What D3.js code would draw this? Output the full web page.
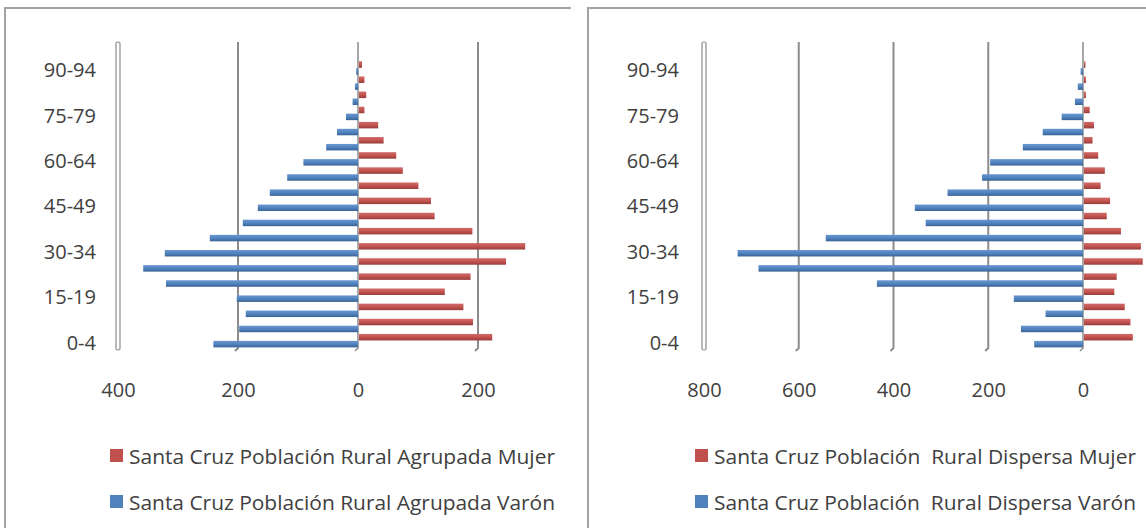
<!DOCTYPE html>
<html>
<head>
<meta charset="utf-8">
<script src="https://cdn.jsdelivr.net/npm/d3@7"></script>
<style>
  html, body { margin: 0; padding: 0; background: #fff; }
  svg text { font-family: "Open Sans", "Liberation Sans", sans-serif; fill: #404040; }
</style>
</head>
<body>
<div id="chart"></div>
<script>
// grupos de edad (de abajo hacia arriba)
const ageGroups = ["0-4", "5-9", "10-14", "15-19", "20-24", "25-29", "30-34", "35-39", "40-44",
  "45-49", "50-54", "55-59", "60-64", "65-69", "70-74", "75-79", "80-84", "85-89", "90-94"];
const shownAgeLabels = ["0-4", "15-19", "30-34", "45-49", "60-64", "75-79", "90-94"];

// Rural agrupada
const agrupadaMujer = [222, 190, 174, 143, 186, 245, 277, 189, 126, 120, 99, 73, 62, 41, 32, 9, 12, 9, 5];
const agrupadaVaron = [241, 198, 187, 202, 320, 358, 322, 247, 192, 167, 147, 118, 91, 53, 35, 20, 9, 5, 3];
const agrupadaTicks = [-400, -200, 0, 200];
const agrupadaLegend = ["Santa Cruz Población Rural Agrupada Mujer", "Santa Cruz Población Rural Agrupada Varón"];

// Rural dispersa
const dispersaMujer = [103, 98, 86, 64, 69, 124, 120, 78, 48, 55, 35, 44, 30, 18, 21, 12, 4, 4, 3];
const dispersaVaron = [103, 131, 79, 146, 435, 685, 729, 543, 332, 355, 286, 213, 196, 127, 85, 45, 17, 11, 5];
const dispersaTicks = [-800, -600, -400, -200, 0];
const dispersaLegend = ["Santa Cruz Población  Rural Dispersa Mujer", "Santa Cruz Población  Rural Dispersa Varón"];

const W = 1146, H = 528;
const svg = d3.select("#chart").append("svg").attr("width", W).attr("height", H);

// degradados para simular el relieve 3D de las barras
const defs = svg.append("defs");
function grad(id, top, mid, bottom) {
  const g = defs.append("linearGradient").attr("id", id).attr("x1", 0).attr("y1", 0).attr("x2", 0).attr("y2", 1);
  g.append("stop").attr("offset", "0%").attr("stop-color", top);
  g.append("stop").attr("offset", "55%").attr("stop-color", mid);
  g.append("stop").attr("offset", "100%").attr("stop-color", bottom);
}
grad("gBlue", "#6a97cf", "#4f81bd", "#3a6396");
grad("gRed", "#d26b68", "#c0504d", "#963d3a");

function drawPyramid(cfg) {
  const g = svg.append("g");

  // marco del panel (solo borde superior e izquierdo visibles)
  g.append("path")
    .attr("d", `M${cfg.frame[0]},${H} V${cfg.frame[1]} H${cfg.frame[2]}`)
    .attr("fill", "none").attr("stroke", "#a3a3a3").attr("stroke-width", 2);

  const x = d3.scaleLinear().domain(cfg.xDomain).range(cfg.xRange);
  const y = d3.scaleBand().domain(ageGroups.slice().reverse()).range([60.3, 348.1]);
  const sub = d3.scaleBand().domain(["Mujer", "Varón"]).range([1.0, 14.4]).paddingInner(0.06);

  const top = 42, bottom = 350;

  // líneas de división + pared del eje
  cfg.ticks.forEach(t => {
    if (t === cfg.ticks[0]) {
      g.append("rect")
        .attr("x", x(t) - 2).attr("y", top).attr("width", 4).attr("height", bottom - top)
        .attr("rx", 1.5)
        .attr("fill", "#fff").attr("stroke", "#8c8c8c").attr("stroke-width", 1.2);
    } else {
      g.append("path")
        .attr("d", `M${x(t)},${top} V${bottom - 2} l-3,3`)
        .attr("fill", "none").attr("stroke", "#8c8c8c").attr("stroke-width", t === 0 ? 1.5 : 2);
    }
  });

  const rows = g.selectAll(".row").data(ageGroups).enter().append("g")
    .attr("transform", d => `translate(0,${y(d)})`);

  rows.append("rect")
    .attr("x", (d, i) => x(-cfg.varon[i]))
    .attr("y", sub("Varón"))
    .attr("width", (d, i) => x(0) - x(-cfg.varon[i]))
    .attr("height", sub.bandwidth())
    .attr("fill", "url(#gBlue)");

  rows.append("rect")
    .attr("x", x(0) + 1)
    .attr("y", sub("Mujer"))
    .attr("width", (d, i) => Math.max(0, x(cfg.mujer[i]) - x(0)))
    .attr("height", sub.bandwidth())
    .attr("fill", "url(#gRed)");

  // eje de categorías
  const yAxis = g.append("g")
    .attr("transform", `translate(${x(cfg.ticks[0])},2.8)`)
    .call(d3.axisLeft(y).tickValues(shownAgeLabels).tickSize(0).tickPadding(cfg.yPad));
  yAxis.select(".domain").remove();
  yAxis.selectAll("text").style("font-size", "20px").style("fill", "#404040").style("font-family", null);

  // eje de valores
  const xAxis = g.append("g")
    .attr("transform", "translate(0,375)")
    .call(d3.axisBottom(x).tickValues(cfg.ticks).tickFormat(d => Math.abs(d)).tickSize(0).tickPadding(8));
  xAxis.select(".domain").remove();
  xAxis.selectAll("text").style("font-size", "20px").style("fill", "#404040").style("font-family", null);

  // leyenda
  const colors = ["#c0504d", "#4f81bd"];
  const leg = g.selectAll(".leg").data(cfg.legend).enter().append("g")
    .attr("transform", (d, i) => `translate(${cfg.legendX},${449 + i * 46})`);
  leg.append("rect").attr("width", 13).attr("height", 13).attr("fill", (d, i) => colors[i]);
  leg.append("text")
    .attr("x", 19).attr("y", 15)
    .attr("textLength", cfg.legendW).attr("lengthAdjust", "spacingAndGlyphs")
    .style("font-size", "20px")
    .style("white-space", "pre")
    .text(d => d);
}

drawPyramid({
  frame: [5, 8, 571],
  xDomain: [-400, 200], xRange: [118, 478],
  ticks: agrupadaTicks,
  mujer: agrupadaMujer, varon: agrupadaVaron,
  yPad: 22,
  legend: agrupadaLegend, legendX: 110, legendW: 426
});

drawPyramid({
  frame: [588, 8, W + 10],
  xDomain: [-800, 0], xRange: [704, 1083],
  ticks: dispersaTicks,
  mujer: dispersaMujer, varon: dispersaVaron,
  yPad: 25,
  legend: dispersaLegend, legendX: 695, legendW: 422
});
</script>
</body>
</html>
